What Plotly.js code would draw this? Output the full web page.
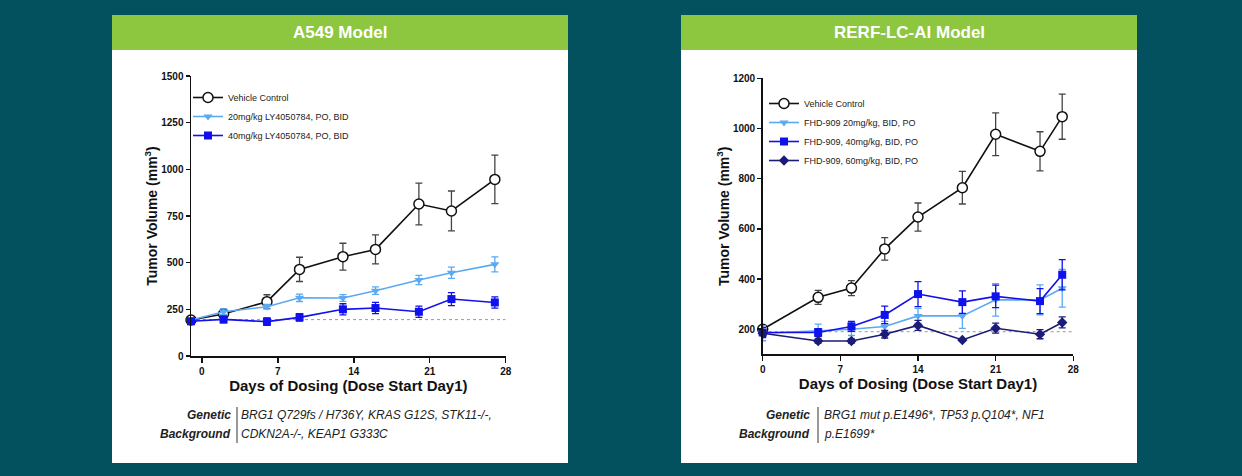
<!DOCTYPE html>
<html>
<head>
<meta charset="utf-8">
<script src="https://cdn.plot.ly/plotly-3.0.1.min.js"></script>
<style>
html,body{margin:0;padding:0;background:#03505E;}
#chart{width:1242px;height:476px;}
</style>
</head>
<body>
<div id="chart"></div>
<script>
// ---------- Data: A549 model ----------
const daysA = [-1, 2, 6, 9, 13, 16, 20, 23, 27];
const vehA = [193, 225, 291, 464, 532, 571, 814, 777, 946];
const vehAerr = [15, 25, 37, 65, 72, 78, 112, 107, 130];
const lo20A = [193, 237, 264, 312, 311, 350, 407, 446, 491];
const lo20Aerr = [10, 15, 12, 20, 18, 20, 25, 30, 40];
const hi40A = [186, 196, 184, 207, 250, 257, 237, 305, 287];
const hi40Aerr = [15, 18, 20, 20, 30, 30, 30, 35, 30];
const baselineA = 195;
const namesA = ["Vehicle Control", "20mg/kg LY4050784, PO, BID", "40mg/kg LY4050784, PO, BID"];

// ---------- Data: RERF-LC-AI model ----------
const daysR = [0, 5, 8, 11, 14, 18, 21, 25, 27];
const vehR = [200, 327, 364, 520, 647, 764, 977, 909, 1047];
const vehRerr = [15, 28, 30, 45, 56, 65, 85, 78, 90];
const d20R = [184, 195, 200, 211, 253, 253, 317, 317, 363];
const d20Rerr = [30, 25, 25, 20, 30, 50, 65, 60, 75];
const d40R = [187, 187, 211, 257, 340, 308, 331, 312, 417];
const d40Rerr = [20, 15, 20, 35, 50, 45, 45, 50, 60];
const d60R = [184, 153, 153, 180, 215, 157, 204, 180, 227];
const d60Rerr = [12, 8, 8, 15, 20, 5, 20, 18, 22];
const baselineR = 190;
const namesR = ["Vehicle Control", "FHD-909 20mg/kg, BID, PO", "FHD-909, 40mg/kg, BID, PO", "FHD-909, 60mg/kg, BID, PO"];

const ticksXA = [0, 7, 14, 21, 28];
const ticksYA = [0, 250, 500, 750, 1000, 1250, 1500];
const ticksXR = [0, 7, 14, 21, 28];
const ticksYR = [200, 400, 600, 800, 1000, 1200];

const W = 1242, H = 476;
const px = v => v / W;
const py = v => 1 - v / H;

const FONT = "Liberation Sans, Arial, sans-serif";
const BLACK = "#111111", LIGHT = "#5AA9F2", BLUE = "#1111EE", NAVY = "#1B1B78";

function series(x, y, err, name, color, symbol, ax, legend, open, errColor) {
  return {
    type: "scatter", mode: "lines+markers", x: x, y: y, name: name,
    xaxis: ax[0], yaxis: ax[1], legend: legend, cliponaxis: false,
    line: {color: color, width: 1.6},
    marker: open ? {symbol: symbol, size: 10, color: "#FFFFFF", line: {color: color, width: 1.5}}
                 : {symbol: symbol, size: 8, color: color, line: {color: color, width: 0}},
    error_y: {type: "data", array: err, visible: true, color: errColor || color, thickness: 1.3, width: 3.5}
  };
}
function baseLine(x, val, ax) {
  return {type: "scatter", mode: "lines", x: x, y: x.map(() => val), xaxis: ax[0], yaxis: ax[1],
    showlegend: false, hoverinfo: "skip", line: {color: "#999", width: 1, dash: "dot"}};
}

const axA = ["x", "y"], axR = ["x2", "y2"];
const data = [
  baseLine([-1, 28], baselineA, axA),
  series(daysA, vehA, vehAerr, namesA[0], BLACK, "circle", axA, "legend", true, "#444"),
  series(daysA, lo20A, lo20Aerr, namesA[1], LIGHT, "triangle-down", axA, "legend"),
  series(daysA, hi40A, hi40Aerr, namesA[2], BLUE, "square", axA, "legend"),
  baseLine([0, 28], baselineR, axR),
  series(daysR, vehR, vehRerr, namesR[0], BLACK, "circle", axR, "legend2", true, "#444"),
  series(daysR, d20R, d20Rerr, namesR[1], LIGHT, "triangle-down", axR, "legend2"),
  series(daysR, d40R, d40Rerr, namesR[2], BLUE, "square", axR, "legend2"),
  series(daysR, d60R, d60Rerr, namesR[3], NAVY, "diamond", axR, "legend2")
];

function xaxis(domain, range, ticks, anchor) {
  return {domain: domain, range: range, tickvals: ticks, ticktext: ticks.map(String), anchor: anchor,
    showgrid: false, zeroline: false, showline: true, linecolor: "#111", linewidth: 1.5,
    ticks: "outside", ticklen: 5, tickwidth: 1.5, tickcolor: "#111",
    tickfont: {family: FONT, size: 10, color: "#111", weight: "bold"},
    title: {text: "Days of Dosing (Dose Start Day1)", font: {family: FONT, size: 15, color: "#111", weight: "bold"}, standoff: 4},
    fixedrange: true};
}
function yaxis(domain, range, ticks, anchor) {
  return {domain: domain, range: range, tickvals: ticks, ticktext: ticks.map(String), anchor: anchor,
    showgrid: false, zeroline: false, showline: true, linecolor: "#111", linewidth: 1.5,
    ticks: "outside", ticklen: 4, tickwidth: 1.5, tickcolor: "#111",
    tickfont: {family: FONT, size: 10, color: "#111", weight: "bold"},
    title: {text: "Tumor Volume (mm<sup>3</sup>)", font: {family: FONT, size: 14, color: "#111", weight: "bold"}, standoff: 0},
    fixedrange: true};
}

function panel(x0, x1) {
  return [
    {type: "rect", xref: "paper", yref: "paper", x0: px(x0), x1: px(x1), y0: py(463), y1: py(15), fillcolor: "#FFFFFF", line: {width: 0}, layer: "below"},
    {type: "rect", xref: "paper", yref: "paper", x0: px(x0), x1: px(x1), y0: py(50), y1: py(15), fillcolor: "#8DC63F", line: {width: 0}, layer: "below"}
  ];
}

const shapes = [].concat(
  panel(112, 568), panel(681, 1137),
  [{type: "line", xref: "paper", yref: "paper", x0: px(237), x1: px(237), y0: py(443), y1: py(407), line: {color: "#333", width: 1}},
   {type: "line", xref: "paper", yref: "paper", x0: px(818), x1: px(818), y0: py(443), y1: py(407), line: {color: "#333", width: 1}}]
);

function ann(text, x, y, xanchor, font) {
  return {text: text, xref: "paper", yref: "paper", x: px(x), y: py(y), xanchor: xanchor, yanchor: "middle", showarrow: false, font: font};
}
const hdrFont = {family: FONT, size: 17, color: "#FFFFFF", weight: "bold"};
const genFont = {family: FONT, size: 12, color: "#222", weight: "bold", style: "italic"};
const txtFont = {family: FONT, size: 12, color: "#222", style: "italic"};
const annotations = [
  ann("A549 Model", 340, 33, "center", hdrFont),
  ann("RERF-LC-AI Model", 909, 33, "center", hdrFont),
  ann("Genetic", 233, 415, "right", genFont),
  ann("Background", 233, 434, "right", genFont),
  ann("BRG1 Q729fs / H736Y, KRAS G12S, STK11-/-,", 239, 415, "left", txtFont),
  ann("CDKN2A-/-, KEAP1 G333C", 239, 434, "left", txtFont),
  ann("Genetic", 812, 415, "right", genFont),
  ann("Background", 812, 434, "right", genFont),
  ann("BRG1 mut p.E1496*, TP53 p.Q104*, NF1", 822, 415, "left", txtFont),
  ann("p.E1699*", 822, 434, "left", txtFont)
];

const legendStyle = {bgcolor: "rgba(0,0,0,0)", borderwidth: 0, font: {family: FONT, size: 9, color: "#222"},
  xref: "paper", yref: "paper", xanchor: "left", yanchor: "top", itemwidth: 30, tracegroupgap: 0};

const layout = {
  width: W, height: H,
  margin: {l: 0, r: 0, t: 0, b: 0},
  paper_bgcolor: "#03505E", plot_bgcolor: "rgba(0,0,0,0)",
  showlegend: true,
  xaxis: xaxis([px(191), px(505.7)], [-1, 28], ticksXA, "y"),
  yaxis: yaxis([py(356), py(76)], [0, 1500], ticksYA, "x"),
  xaxis2: xaxis([px(762.7), px(1073.3)], [0, 28], ticksXR, "y2"),
  yaxis2: yaxis([py(354.3), py(78.3)], [100, 1200], ticksYR, "x2"),
  legend: Object.assign({}, legendStyle, {x: px(188), y: py(83)}),
  legend2: Object.assign({}, legendStyle, {x: px(764), y: py(89)}),
  shapes: shapes,
  annotations: annotations
};

Plotly.newPlot("chart", data, layout, {displayModeBar: false, staticPlot: true});
</script>
</body>
</html>
